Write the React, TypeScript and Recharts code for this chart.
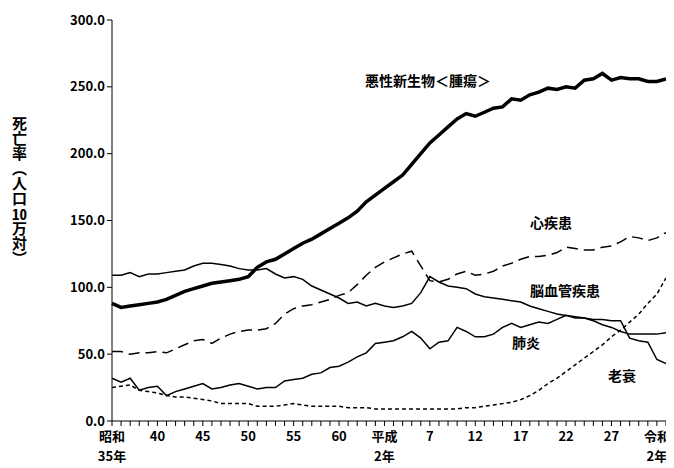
import React from "react";
import { LineChart, Line, XAxis, YAxis } from "recharts";

const years = Array.from({ length: 62 }, (_, i) => 1960 + i);

const cancer = [88, 85, 86, 87, 88, 89, 91, 94, 97, 99, 101, 103, 104, 105, 106, 108, 115, 119, 121, 125,
  129, 133, 136, 140, 144, 148, 152, 157, 164, 169, 174, 179, 184, 192, 200, 208, 214, 220, 226, 230,
  228, 231, 234, 235, 241, 240, 244, 246, 249, 248, 250, 249, 255, 256, 260, 255, 257, 256, 256, 254, 254, 256];
const heart = [52, 52, 50, 51, 51, 52, 51, 54, 57, 60, 61, 58, 62, 65, 67, 68, 68, 69, 73, 80,
  84, 86, 87, 89, 91, 94, 96, 102, 109, 115, 119, 122, 125, 127, 116, 105, 104, 106, 110, 112,
  109, 110, 112, 116, 118, 121, 123, 123, 124, 126, 130, 129, 128, 128, 130, 131, 134, 138, 137, 135, 137, 141];
const cerebro = [109, 109, 111, 108, 110, 110, 111, 112, 113, 116, 118, 118, 117, 116, 114, 113, 113, 114, 110, 107,
  108, 106, 101, 98, 95, 92, 88, 89, 86, 88, 86, 85, 86, 88, 96, 108, 104, 101, 100, 99,
  95, 93, 92, 91, 90, 89, 86, 84, 82, 80, 79, 78, 77, 75, 72, 70, 67, 65, 65, 65, 65, 66];
const pneumonia = [32, 29, 32, 23, 25, 26, 19, 22, 24, 26, 28, 24, 25, 27, 28, 26, 24, 25, 25, 30,
  31, 32, 35, 36, 40, 41, 44, 48, 51, 58, 59, 60, 63, 67, 62, 54, 59, 60, 70, 67,
  63, 63, 65, 70, 73, 70, 72, 74, 73, 76, 79, 77, 77, 76, 76, 75, 75, 62, 60, 59, 46, 43];
const oldAge = [25, 26, 27, 23, 22, 21, 19, 18, 18, 17, 16, 15, 13, 13, 13, 13, 11, 11, 11, 12,
  13, 12, 11, 11, 11, 11, 10, 10, 10, 9, 9, 9, 9, 9, 9, 9, 9, 9, 9, 10,
  10, 11, 12, 13, 14, 16, 19, 23, 28, 32, 37, 42, 47, 52, 57, 63, 68, 74, 80, 88, 95, 107];

const yTicks = [0, 50, 100, 150, 200, 250, 300];
const xLabels: Record<number, string[]> = {
  1960: ["昭和", "35年"], 1965: ["40"], 1970: ["45"], 1975: ["50"], 1980: ["55"], 1985: ["60"],
  1990: ["平成", "2年"], 1995: ["7"], 2000: ["12"], 2005: ["17"], 2010: ["22"], 2015: ["27"],
  2020: ["令和", "2年"],
};

const data = years.map((y, i) => ({
  year: y, cancer: cancer[i], heart: heart[i], cerebro: cerebro[i], pneumonia: pneumonia[i], oldAge: oldAge[i],
}));

const font = "'Noto Sans CJK JP', sans-serif";

const XTick = ({ x, y, payload }: any) => {
  const lines = xLabels[payload.value];
  if (!lines) return null;
  return (
    <g>
      {lines.map((l, i) => (
        <text key={i} x={x} y={y + 13 + i * 20} textAnchor="middle" fontSize={13} fontWeight={700}
          fill="#000" fontFamily={font}>{l}</text>
      ))}
    </g>
  );
};

const label = (text: string, left: number, top: number) => (
  <div style={{ position: "absolute", left, top, fontSize: 14, fontWeight: 700, fontFamily: font, whiteSpace: "nowrap" }}>
    {text}
  </div>
);

export default function App() {
  return (
    <div style={{ position: "relative", width: 666, height: 460 }}>
      <LineChart width={666} height={460} data={data} margin={{ top: 12, right: 8, left: 0, bottom: 0 }}>
        <XAxis dataKey="year" type="number" domain={[1960, 2021]} ticks={years} interval={0}
          tick={<XTick />} tickLine={{ stroke: "#000" }} tickSize={5} axisLine={{ stroke: "#000" }} height={47} />
        <YAxis domain={[0, 300]} ticks={yTicks} tickFormatter={(v) => v.toFixed(1)} width={104}
          tick={{ fontSize: 13, fontWeight: 700, fill: "#000", fontFamily: font }}
          tickLine={{ stroke: "#000" }} tickSize={5} axisLine={{ stroke: "#000" }} />
        <Line dataKey="cancer" stroke="#000" strokeWidth={3.5} dot={false} isAnimationActive={false} />
        <Line dataKey="heart" stroke="#000" strokeWidth={1.5} strokeDasharray="11 6" dot={false} isAnimationActive={false} />
        <Line dataKey="cerebro" stroke="#000" strokeWidth={1.5} dot={false} isAnimationActive={false} />
        <Line dataKey="pneumonia" stroke="#000" strokeWidth={1.5} dot={false} isAnimationActive={false} />
        <Line dataKey="oldAge" stroke="#000" strokeWidth={1.5} strokeDasharray="4 3" dot={false} isAnimationActive={false} />
      </LineChart>
      <div style={{ position: "absolute", left: 4, top: 108, writingMode: "vertical-rl", fontSize: 15, fontWeight: 700, fontFamily: font, lineHeight: 1 }}>
        死亡率︵人口<span style={{ textCombineUpright: "all" }}>10</span>万対︶
      </div>
      {label("悪性新生物＜腫瘍＞", 357, 62)}
      {label("心疾患", 522, 204)}
      {label("脳血管疾患", 522, 272)}
      {label("肺炎", 504, 324)}
      {label("老衰", 600, 357)}
    </div>
  );
}
